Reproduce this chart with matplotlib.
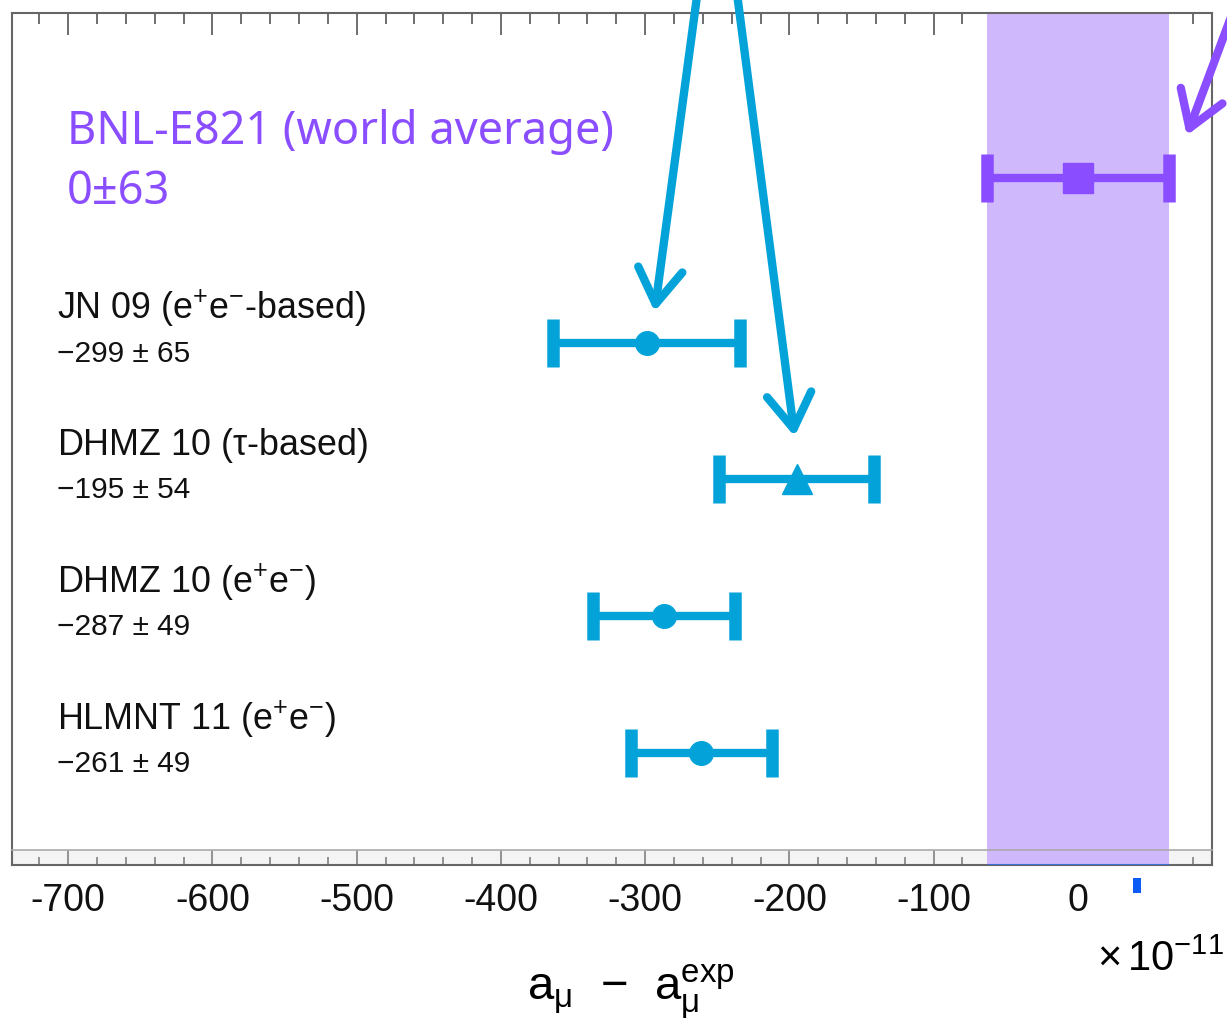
import numpy as np
import matplotlib.pyplot as plt
from matplotlib import transforms
from matplotlib.patches import Rectangle

plt.rcParams['font.family'] = ['Liberation Sans', 'DejaVu Sans']
plt.rcParams['mathtext.fontset'] = 'custom'
plt.rcParams['mathtext.rm'] = 'Liberation Sans'
plt.rcParams['mathtext.it'] = 'Liberation Sans'
plt.rcParams['axes.unicode_minus'] = False

# data
names = ["JN 09 (e$^{+}$e$^{-}$-based)", "DHMZ 10 ($\\tau$-based)",
         "DHMZ 10 (e$^{+}$e$^{-}$)", "HLMNT 11 (e$^{+}$e$^{-}$)"]
values = [-299, -195, -287, -261]
errors = [65, 54, 49, 49]
markers = ['o', '^', 'o', 'o']
bnl_value = 0
bnl_error = 63
ticks = [-700, -600, -500, -400, -300, -200, -100, 0]

# layout
rows = [4, 3, 2, 1]
bnl_row = 5.2
blue = '#03a3d9'
purple = '#8a4dff'
band = '#d0b8fd'

fig = plt.figure(figsize=(12.27, 10.33), dpi=100)
W, H = 1227, 1033
ax = fig.add_axes([12 / W, (H - 850) / H, 1200 / W, 837 / H])
strip = fig.add_axes([12 / W, (H - 865) / H, 1200 / W, 15 / H], sharex=ax)

ax.set_xlim(-739, 93)
ax.set_ylim(0.292, 6.409)

for a in (ax, strip):
    a.set_axisbelow(True)
    a.axvspan(bnl_value - bnl_error, bnl_value + bnl_error, color=band, lw=0, zorder=1)
    for s in a.spines.values():
        s.set_color('#666666')
        s.set_linewidth(1.5)
    a.set_xticks(ticks)
    a.set_xticks(np.arange(-720, 100, 20), minor=True)

ax.spines['bottom'].set_visible(False)
ax.set_yticks([])
ax.tick_params(axis='x', which='both', direction='in', top=True, bottom=False,
               labelbottom=False, color='#555555', width=1.2)
ax.tick_params(axis='x', which='major', length=16)
ax.tick_params(axis='x', which='minor', length=8)

strip.set_facecolor('#f4f4f4')
strip.spines['top'].set_color('#aaaaaa')
strip.spines['top'].set_linewidth(1.2)
strip.set_yticks([])
strip.set_ylim(0, 1)
strip.tick_params(axis='x', which='both', direction='in', color='#777777', width=1.1,
                  labelsize=27, pad=13, labelcolor='#111111')
strip.tick_params(axis='x', which='major', length=10.8)
strip.tick_params(axis='x', which='minor', length=5.5)
strip.hlines(0.02, bnl_value - bnl_error, bnl_value + bnl_error, color='#3a6fe0', lw=2, zorder=3)

# hand drawn error bars
for v, e, m, r in zip(values, errors, markers, rows):
    ax.errorbar(v, r, xerr=e, fmt=m, color=blue, ms=21 if m == '^' else 17,
                elinewidth=6, capsize=17, capthick=9, zorder=5)
ax.errorbar(bnl_value, bnl_row, xerr=bnl_error, fmt='s', color=purple, ms=22,
            elinewidth=6, capsize=17, capthick=9, zorder=5)

# labels
lab = transforms.blended_transform_factory(ax.transAxes, ax.transData)
for n, v, e, r in zip(names, values, errors, rows):
    ax.text(0.0375, r + 0.25, n, transform=lab, fontsize=25.8, va='center', ha='left', color='#111111')
    ax.text(0.0375, r - 0.08, "\u2212%d \u00b1 %d" % (-v, e), transform=lab, fontsize=21.5,
            va='center', ha='left', color='#111111')

ax.text(0.046, bnl_row + 0.34, "BNL-E821 (world average)", transform=lab, fontsize=32.5,
        color=purple, va='center', ha='left', family='Noto Sans')
ax.text(0.046, bnl_row - 0.1, "%d\u00b1%d" % (bnl_value, bnl_error), transform=lab, fontsize=32.5,
        color=purple, va='center', ha='left', family='Noto Sans')

# hand drawn arrows
def arrow(xv, yv, dx, dy, tx, ty, col):
    tip = transforms.offset_copy(ax.transData, fig=fig, x=dx, y=dy, units='dots')
    ax.annotate('', xy=(xv, yv), xycoords=tip, xytext=(tx, ty), textcoords='offset pixels',
                arrowprops=dict(arrowstyle='->,head_length=1.25,head_width=0.8', lw=6, color=col,
                                shrinkA=0, shrinkB=0, mutation_scale=20, capstyle='round'),
                annotation_clip=False, zorder=6)

arrow(values[0], rows[0], 8, 31, 43, 320, blue)
arrow(values[1], rows[1], -2, 43, -58, 446, blue)
arrow(bnl_value + bnl_error, bnl_row, 18, 43, 49, 131, purple)

fig.text(631 / W, 1 - 992 / H, "a$_{\\mu}$  $-$  a$_{\\mu}^{\\rm exp}$", fontsize=34, ha='center', va='center')
fig.text(1097 / W, 1 - 960 / H, "$\\times\\,$10$^{-11}$", fontsize=30, ha='left', va='center')
fig.patches.append(Rectangle((1133 / W, (H - 893) / H), 8 / W, 15 / H, transform=fig.transFigure,
                             color='#0a5cf5', lw=0))

fig.savefig('out.png', dpi=100)
